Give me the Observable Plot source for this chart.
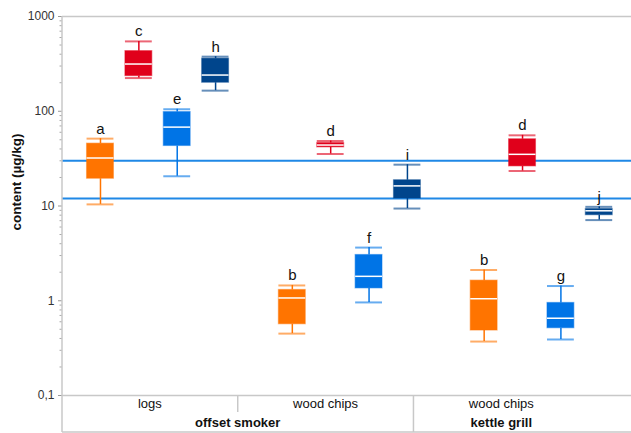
<!DOCTYPE html>
<html>
<head>
<meta charset="utf-8">
<script src="https://cdn.jsdelivr.net/npm/d3@7"></script>
<script src="https://cdn.jsdelivr.net/npm/@observablehq/plot@0.6"></script>
<style>
  html, body { margin: 0; padding: 0; background: #fff; }
  #chart svg { display: block; }
</style>
</head>
<body>
<div id="chart"></div>
<script>
// Setups along the bottom axis and the device each belongs to
const setups = ["logs", "wood chips", "wood chips"];
const devices = ["offset smoker", "kettle grill"];
const setupDevice = [0, 0, 1];

// Colour of each of the four sample series inside a setup
const seriesColors = ["#ff7400", "#e0001b", "#0074e6", "#00458c"];

// One entry per box: setup, series, significance letter and box statistics (µg/kg)
const boxSetup    = [0, 0, 0, 0, 1, 1, 1, 1, 2, 2, 2, 2];
const boxSeries   = [0, 1, 2, 3, 0, 1, 2, 3, 0, 1, 2, 3];
const letters     = ["a", "c", "e", "h", "b", "d", "f", "i", "b", "d", "g", "j"];
const lowWhisker  = [10.4, 224, 20.6, 165, 0.45, 35.4, 0.96, 9.4, 0.371, 23.4, 0.39, 7.1];
const lowerQuart  = [19.4, 235, 43, 200, 0.565, 41.6, 1.35, 12.0, 0.485, 26.2, 0.513, 8.0];
const medians     = [32.1, 315, 68, 241, 1.07, 44, 1.81, 16.3, 1.05, 35.1, 0.654, 8.9];
const upperQuart  = [45.5, 431, 98, 359, 1.30, 46.2, 3.04, 18.7, 1.63, 50.6, 0.948, 9.3];
const highWhisker = [51.4, 546, 105, 377, 1.45, 48.5, 3.64, 27.3, 2.11, 55.7, 1.43, 9.8];

// Horizontal reference levels (µg/kg)
const referenceLevels = [30, 12];

// Y axis ticks
const yTicks = [0.1, 1, 10, 100, 1000];
const yMinorTicks = [0.1, 1, 10, 100].flatMap(d => [2, 3, 4, 5, 6, 7, 8, 9].map(k => k * d));

// Slot layout: four slots per setup plus one empty slot between setups
const SLOTS_PER_SETUP = 5;
const HALF = 0.35;               // half box width in slot units
const BAND = 4.58;               // width of one setup band in slot units
const BAND_START = -0.99;        // left edge of the first band

const boxes = letters.map((letter, i) => ({
  slot: boxSetup[i] * SLOTS_PER_SETUP + boxSeries[i],
  color: seriesColors[boxSeries[i]],
  letter,
  lo: lowWhisker[i], q1: lowerQuart[i], med: medians[i], q3: upperQuart[i], hi: highWhisker[i]
}));

const FONT = "Liberation Sans, Arial, Helvetica, sans-serif";
const GRID = "#c8c8c8";

const chart = Plot.plot({
  width: 631,
  height: 433,
  marginLeft: 62,
  marginRight: 0,
  marginTop: 16,
  marginBottom: 38,
  style: { fontFamily: FONT, background: "#fff", overflow: "visible" },
  x: { type: "linear", domain: [BAND_START, 13.84], axis: null },
  y: { type: "log", domain: [0.1, 1000] },
  color: { type: "identity" },
  marks: [
    Plot.ruleY([1000, 0.1], { stroke: GRID, strokeWidth: 1.5 }),
    Plot.ruleY(referenceLevels, { stroke: "#1f88e6", strokeWidth: 2 }),
    // whiskers
    Plot.ruleX(boxes, { x: "slot", y1: "lo", y2: "q1", stroke: "color", strokeWidth: 1.5 }),
    Plot.ruleX(boxes, { x: "slot", y1: "q3", y2: "hi", stroke: "color", strokeWidth: 1.5 }),
    // whisker caps
    Plot.ruleY(boxes, { y: "lo", x1: d => d.slot - HALF, x2: d => d.slot + HALF, stroke: "color", strokeOpacity: 0.6, strokeWidth: 2 }),
    Plot.ruleY(boxes, { y: "hi", x1: d => d.slot - HALF, x2: d => d.slot + HALF, stroke: "color", strokeOpacity: 0.6, strokeWidth: 2 }),
    // boxes
    Plot.rect(boxes, { x1: d => d.slot - HALF, x2: d => d.slot + HALF, y1: "q1", y2: "q3", fill: "color", stroke: "color", strokeOpacity: 0.45, strokeWidth: 1.2 }),
    // medians
    Plot.ruleY(boxes, { y: "med", x1: d => d.slot - HALF, x2: d => d.slot + HALF, stroke: "#fff", strokeWidth: 1.5 }),
    // significance letters
    Plot.text(boxes, { x: "slot", y: "hi", text: "letter", dy: -5, lineAnchor: "bottom", fontSize: 15, fill: "#111" }),
    // y axis
    Plot.axisY(yMinorTicks, { tickSize: 2.5, tickFormat: () => "", stroke: "#aaa", label: null }),
    Plot.axisY(yTicks, {
      tickSize: 4, tickPadding: 4, fontSize: 12, stroke: "#999", fill: "#333", label: null,
      tickFormat: d => d < 1 ? String(d).replace(".", ",") : String(d)
    })
  ]
});

// Category axis below the plot: frame lines and two rows of labels
const sx = chart.scale("x");
const sy = chart.scale("y");
const svg = d3.select(chart);
const xl = 62, xr = 631;
const yBase = sy.apply(0.1);
const yBottom = 432;
const g = svg.append("g").attr("stroke", GRID).attr("stroke-width", 1.5);
g.append("line").attr("x1", xl).attr("x2", xl).attr("y1", sy.apply(1000)).attr("y2", yBottom);
g.append("line").attr("x1", xl).attr("x2", xr).attr("y1", yBottom).attr("y2", yBottom);

const edge = i => sx.apply(BAND_START + i * BAND);
setups.forEach((s, i) => {
  if (i > 0) {
    const full = setupDevice[i] !== setupDevice[i - 1];
    g.append("line").attr("x1", edge(i)).attr("x2", edge(i))
      .attr("y1", yBase).attr("y2", full ? yBottom : yBase + 17);
  }
  svg.append("text")
    .attr("x", (edge(i) + edge(i + 1)) / 2).attr("y", yBase + 13)
    .attr("text-anchor", "middle").attr("font-size", 13).attr("fill", "#111")
    .attr("font-family", FONT).text(s);
});
devices.forEach((dv, k) => {
  const idx = setupDevice.map((d, i) => d === k ? i : -1).filter(i => i >= 0);
  const a = edge(d3.min(idx)), b = edge(d3.max(idx) + 1);
  svg.append("text")
    .attr("x", (a + b) / 2).attr("y", yBase + 31.5)
    .attr("text-anchor", "middle").attr("font-size", 13).attr("font-weight", "bold")
    .attr("fill", "#111").attr("font-family", FONT).text(dv);
});

// Y axis title
svg.append("text")
  .attr("transform", "translate(20.5,182) rotate(-90)")
  .attr("text-anchor", "middle").attr("font-size", 13.5).attr("font-weight", "bold")
  .attr("fill", "#111").attr("font-family", FONT).text("content (µg/kg)");

document.getElementById("chart").appendChild(chart);
</script>
</body>
</html>
